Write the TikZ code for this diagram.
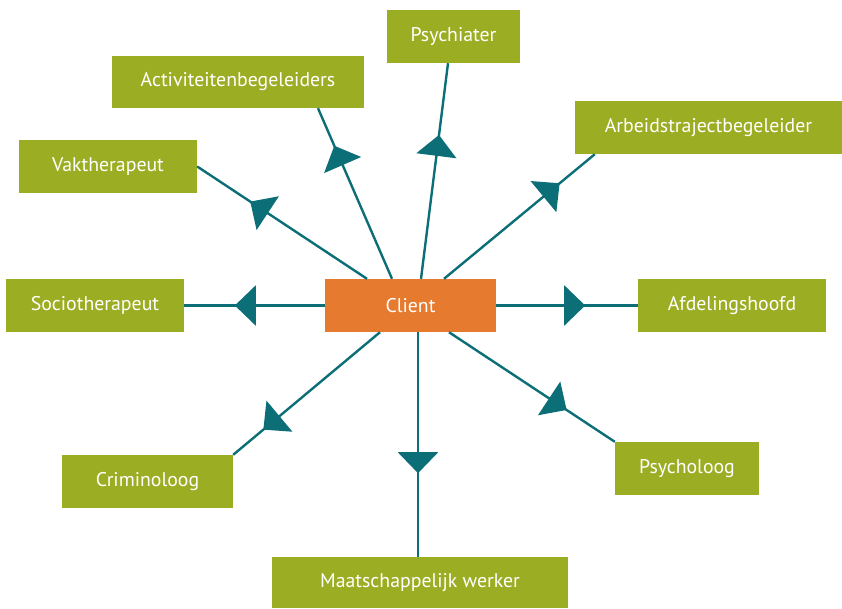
\documentclass[tikz,border=0pt]{standalone}
\usepackage{fontspec}
\setmainfont{PT Sans}
\usepackage{tikz}
\usetikzlibrary{arrows.meta,decorations.markings}
\definecolor{olijf}{RGB}{155,174,35}
\definecolor{oranje}{RGB}{230,122,46}
\definecolor{petrol}{RGB}{12,110,118}

\begin{document}
\begin{tikzpicture}[x=1pt,y=-1pt,
	vak/.style={fill=olijf,text=white,inner sep=0pt,minimum height=53pt,font=\fontsize{19.8}{22}\selectfont},
	lijn/.style={draw=petrol,line width=2.4pt,postaction={decorate},
		decoration={markings,mark=at position #1 with {\arrow{Triangle[length=21pt,width=40pt]}}}},
	lijn/.default=145pt]
	\useasboundingbox (0,0) rectangle (842,608);
					\node[vak,fill=oranje,minimum width=171pt] (c) at (410.5,305.5) {Client};
					\node[vak,minimum width=133pt] (psy) at (453.5,36.5) {Psychiater};
					\node[vak,minimum width=252pt,minimum height=52pt] (act) at (238,82) {Activiteitenbegeleiders};
					\node[vak,minimum width=267pt] (arb) at (708.5,127.5) {Arbeidstrajectbegeleider};
					\node[vak,minimum width=178pt] (vak) at (108,166.5) {Vaktherapeut};
					\node[vak,minimum width=178pt] (soc) at (95,305.5) {Sociotherapeut};
					\node[vak,minimum width=188pt] (afd) at (732,305.5) {Afdelingshoofd};
					\node[vak,minimum width=171pt] (crim) at (147.5,481.5) {Criminoloog};
					\node[vak,minimum width=144pt] (psl) at (687,468.5) {Psycholoog};
					\node[vak,minimum width=296pt,minimum height=51pt] (maat) at (420,582.5) {Maatschappelijk werker};
					\draw[lijn] ([xshift=10.5]c.north) -- ([xshift=-5.5]psy.south);
					\draw[lijn] ([xshift=-18.5]c.north) -- ([xshift=80]act.south);
					\draw[lijn=150pt] ([xshift=33.5]c.north) -- ([xshift=20]arb.south west);
					\draw[lijn=140pt] ([xshift=-43.5]c.north) -- (vak.east);
					\draw[lijn=90pt] (c.west) -- (soc.east);
					\draw[lijn=89pt] (c.east) -- (afd.west);
					\draw[lijn=152pt] ([xshift=-30.5]c.south) -- (crim.north east);
					\draw[lijn=141pt] ([xshift=38.5]c.south) -- (psl.north west);
					\draw[lijn=141pt] ([xshift=7.5]c.south) -- ([xshift=-2]maat.north);
					\end{tikzpicture}
\end{document}
